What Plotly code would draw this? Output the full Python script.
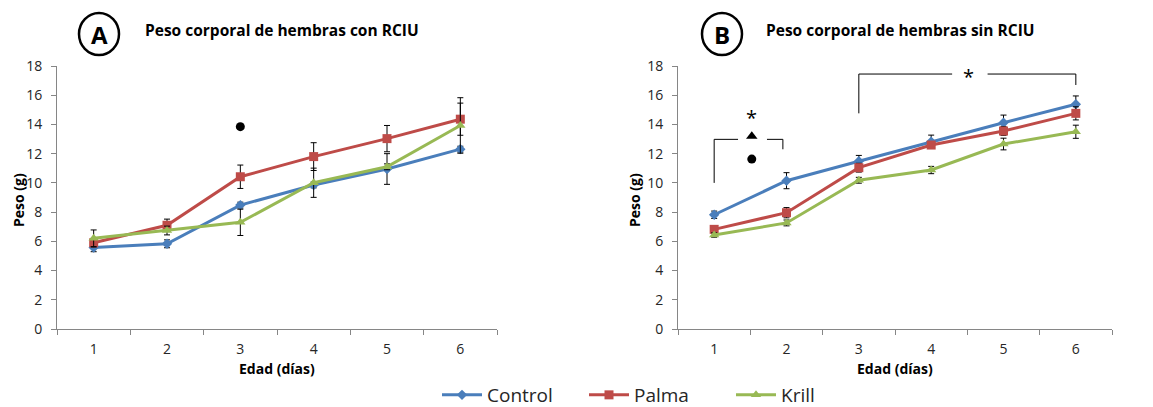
import plotly.graph_objects as go

days = [1, 2, 3, 4, 5, 6]
day_labels = ["1", "2", "3", "4", "5", "6"]
series_names = ["Control", "Palma", "Krill"]

# Panel A: hembras con RCIU
a_control = [5.57, 5.83, 8.48, 9.86, 10.95, 12.31]
a_palma = [5.90, 7.10, 10.42, 11.80, 13.03, 14.36]
a_krill = [6.21, 6.74, 7.30, 10.01, 11.10, 13.93]
a_control_err = [0.28, 0.27, 0.20, 0.20, 1.05, 0.20]
a_palma_err = [0.30, 0.42, 0.80, 0.95, 0.90, 1.10]
a_krill_err = [0.57, 0.30, 0.90, 1.00, 0.20, 1.90]

# Panel B: hembras sin RCIU
b_control = [7.82, 10.15, 11.48, 12.82, 14.12, 15.38]
b_palma = [6.82, 7.96, 11.04, 12.59, 13.55, 14.76]
b_krill = [6.43, 7.26, 10.18, 10.88, 12.66, 13.50]
b_control_err = [0.25, 0.55, 0.40, 0.45, 0.52, 0.57]
b_palma_err = [0.20, 0.35, 0.30, 0.20, 0.30, 0.45]
b_krill_err = [0.15, 0.20, 0.20, 0.25, 0.40, 0.45]

colors = ["#4A7EBB", "#BE4B48", "#98B954"]
symbols = ["diamond", "square", "triangle-up"]
msizes = [8, 9, 9]

title_a = "Peso corporal de hembras con RCIU"
title_b = "Peso corporal de hembras sin RCIU"

# significance marks (day, weight)
mark_a_dot = (3, 13.85)
mark_b_star = (1.52, 14.45)
mark_b_tri = (1.52, 13.2)
mark_b_dot = (1.52, 11.63)
mark_b_star2 = (4.51, 17.25)

# Geometry: the page has an 8px body margin, so the figure is drawn 8px
# smaller and all screen-pixel positions below are shifted by OFF.
OFF = 8
SW, SH = 1153, 407            # screen size
W, H = SW - OFF, SH - OFF      # figure size
AX_L, AX_R, AX_T, AX_B = 57, 1112, 66, 329   # plot area in screen pixels
L, R, T, B = AX_L - OFF, SW - AX_R, AX_T - OFF, SH - AX_B
PW, PH = AX_R - AX_L, AX_B - AX_T


def px(xs):
    return (xs - AX_L) / PW


def py(ys):
    return (AX_B - ys) / PH


fig = go.Figure()

panels = [
    ("x", "y", [a_control, a_palma, a_krill], [a_control_err, a_palma_err, a_krill_err], True),
    ("x2", "y2", [b_control, b_palma, b_krill], [b_control_err, b_palma_err, b_krill_err], False),
]
for xa, ya, vals, errs, show in panels:
    for i in range(3):
        fig.add_trace(go.Scatter(
            x=days, y=vals[i], xaxis=xa, yaxis=ya, name=series_names[i],
            mode="lines+markers", showlegend=show,
            line=dict(color=colors[i], width=3),
            marker=dict(symbol=symbols[i], size=msizes[i], color=colors[i]),
            error_y=dict(type="data", array=errs[i], color="#000000", thickness=1, width=3),
        ))

fig.add_trace(go.Scatter(x=[mark_a_dot[0]], y=[mark_a_dot[1]], xaxis="x", yaxis="y",
                         mode="markers", showlegend=False, hoverinfo="skip",
                         marker=dict(symbol="circle", size=9, color="black")))
fig.add_trace(go.Scatter(x=[mark_b_tri[0]], y=[mark_b_tri[1]], xaxis="x2", yaxis="y2",
                         mode="markers", showlegend=False, hoverinfo="skip",
                         marker=dict(symbol="triangle-up", size=10, color="black")))
fig.add_trace(go.Scatter(x=[mark_b_dot[0]], y=[mark_b_dot[1]], xaxis="x2", yaxis="y2",
                         mode="markers", showlegend=False, hoverinfo="skip",
                         marker=dict(symbol="circle", size=9, color="black")))

ann = []
for sx, sy in [mark_b_star, mark_b_star2]:
    ann.append(dict(x=sx, y=sy, xref="x2", yref="y2", text="*", showarrow=False,
                    xanchor="center", yanchor="middle",
                    font=dict(size=20, color="black", family="Open Sans")))

# brackets
blk = dict(color="black", width=1)
shapes = []
br_left = [(1, 10.0, 1, 12.98), (1, 12.98, 1.33, 12.98), (1.73, 12.98, 1.95, 12.98), (1.95, 12.98, 1.95, 12.3)]
br_right = [(3.0, 14.76, 3.0, 17.45), (3.0, 17.45, 4.29, 17.45), (4.78, 17.45, 6.0, 17.45), (6.0, 17.45, 6.0, 16.7)]
for x0, y0, x1, y1 in br_left + br_right:
    shapes.append(dict(type="line", xref="x2", yref="y2", x0=x0, y0=y0, x1=x1, y1=y1, line=blk))

# panel letter circles
for cx, letter in [(99, "A"), (722, "B")]:
    shapes.append(dict(type="circle", xref="paper", yref="paper",
                       x0=px(cx - 20), x1=px(cx + 20), y0=py(34 - 21), y1=py(34 + 21),
                       line=dict(color="black", width=2.5)))
    ann.append(dict(x=px(cx), y=py(35), xref="paper", yref="paper", text="<b>%s</b>" % letter,
                    xanchor="center", yanchor="middle",
                    showarrow=False, font=dict(size=24, color="black", family="Open Sans")))

# titles
for x0, t in [(143, title_a), (764, title_b)]:
    ann.append(dict(x=px(x0), y=py(30), xref="paper", yref="paper", text="<b>%s</b>" % t,
                    xanchor="left", yanchor="middle",
                    showarrow=False, font=dict(size=15.5, color="black", family="Open Sans")))

# axis titles
for xc in [277, 895]:
    ann.append(dict(x=px(xc), y=py(368), xref="paper", yref="paper", text="<b>Edad (días)</b>",
                    xanchor="center", yanchor="middle",
                    showarrow=False, font=dict(size=14, color="black", family="Open Sans")))
for xc in [18, 634]:
    ann.append(dict(x=px(xc), y=py(200), xref="paper", yref="paper", text="<b>Peso (g)</b>",
                    xanchor="center", yanchor="middle",
                    textangle=-90, showarrow=False, font=dict(size=14, color="black", family="Open Sans")))

axis_common = dict(showgrid=False, zeroline=False, showline=True, linecolor="#868686", linewidth=1,
                   tickfont=dict(size=14, color="#262626", family="Open Sans"), fixedrange=True)
xcommon = dict(axis_common, range=[0.5, 6.5], tickmode="array", tickvals=days, ticktext=day_labels,
               ticks="", ticklabelstandoff=7,
               minor=dict(tickmode="array", tickvals=[0.5, 1.5, 2.5, 3.5, 4.5, 5.5, 6.5],
                          ticks="outside", ticklen=5, tickcolor="#868686", showgrid=False))
ycommon = dict(axis_common, range=[0, 18], dtick=2, tick0=0, ticks="outside", ticklen=5,
               tickcolor="#868686", ticklabelstandoff=6)

fig.update_layout(
    width=W, height=H,
    margin=dict(l=L, r=R, t=T, b=B, autoexpand=False),
    paper_bgcolor="white", plot_bgcolor="white",
    xaxis=dict(xcommon, domain=[0, px(497)], anchor="y"),
    yaxis=dict(ycommon, domain=[0, 1], anchor="x"),
    xaxis2=dict(xcommon, domain=[px(678), 1], anchor="y2"),
    yaxis2=dict(ycommon, domain=[0, 1], anchor="x2"),
    legend=dict(orientation="h", x=px(437), xanchor="left", y=py(395), yanchor="middle",
                font=dict(size=19, color="#262626", family="Open Sans"), itemwidth=40,
                entrywidth=92, bgcolor="rgba(0,0,0,0)"),
    shapes=shapes, annotations=ann,
    showlegend=True,
)

fig.write_html("out.html")
